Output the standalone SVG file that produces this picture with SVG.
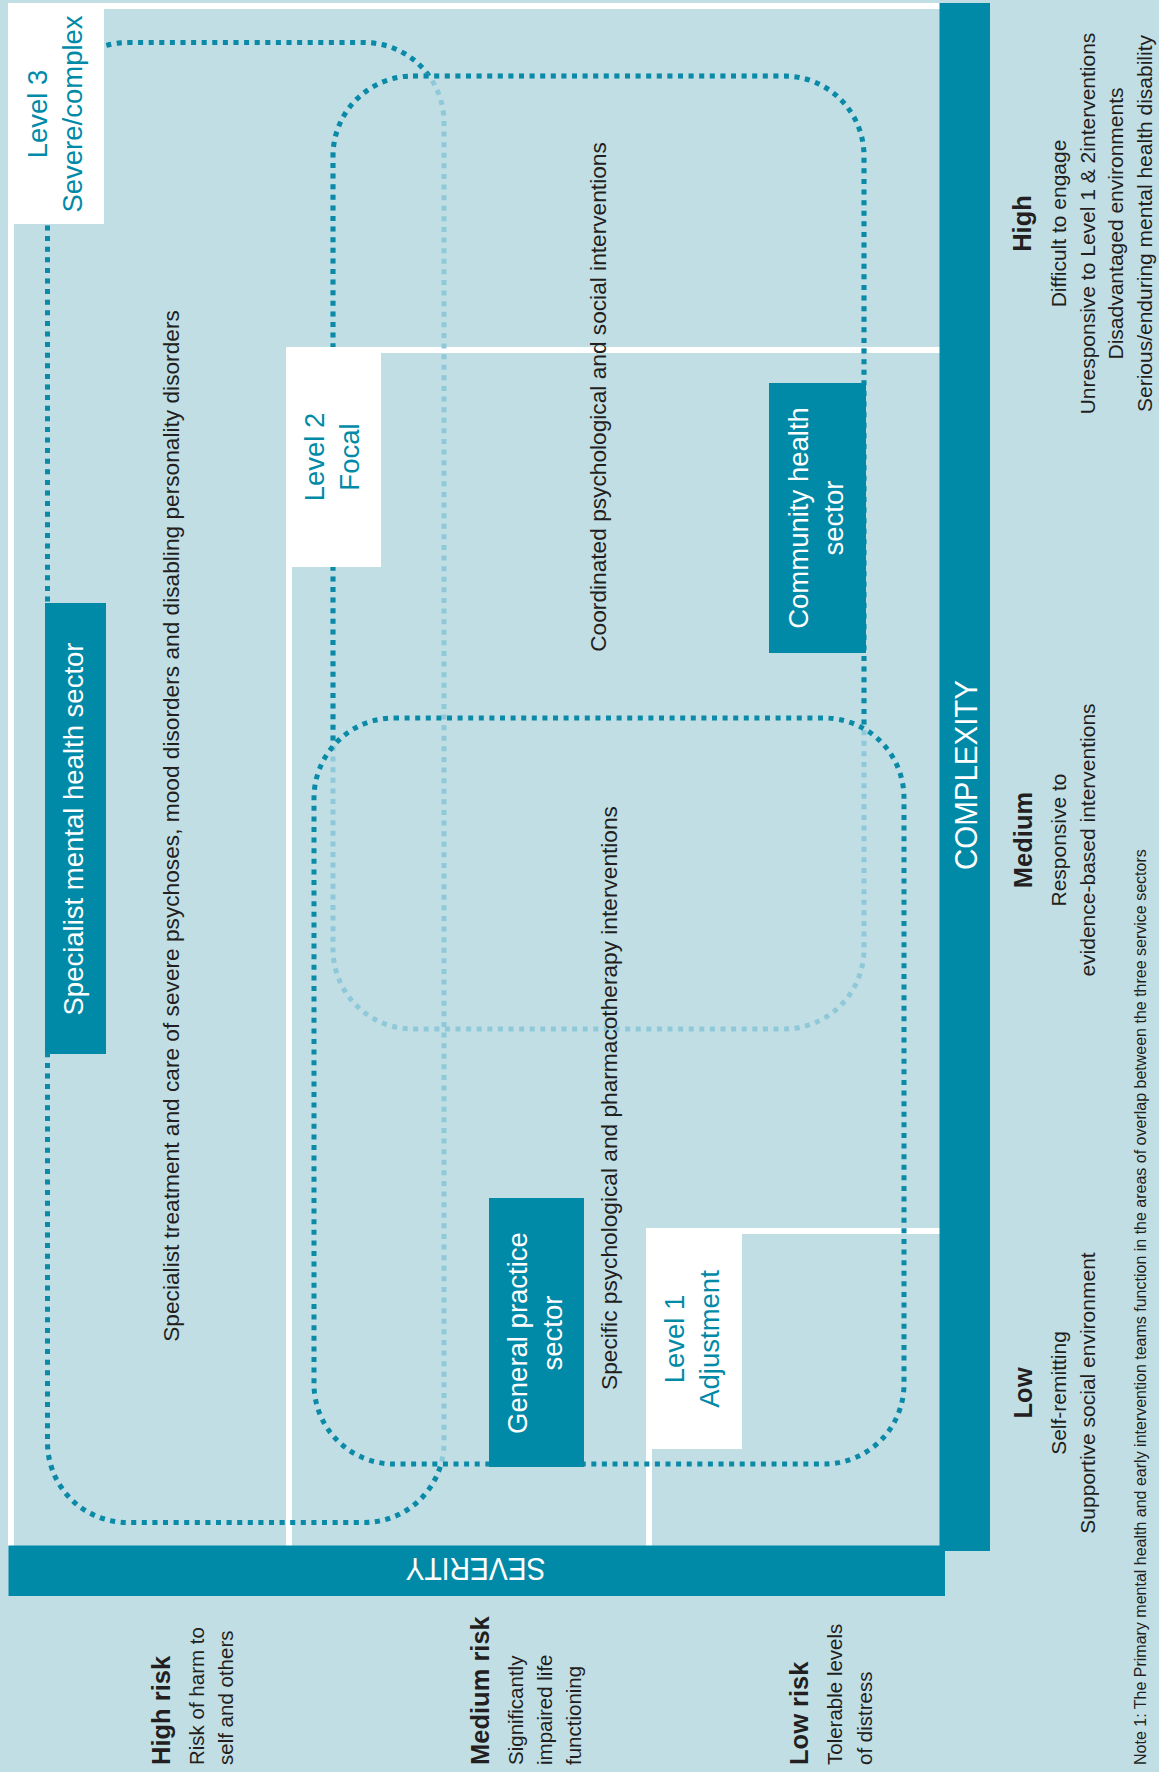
<svg xmlns="http://www.w3.org/2000/svg" width="1159" height="1772" viewBox="0 0 1159 1772">
<style>
text{font-family:"Liberation Sans",Arial,sans-serif;}
.wht{fill:#ffffff;}
.teal{fill:#008aa8;}
.dd{fill:none;stroke:#0a8aa6;stroke-width:5;stroke-dasharray:5 5.6;}
.dl{fill:none;stroke:#8fc9d9;stroke-width:5;stroke-dasharray:5 5.6;}
.lvl{fill:#008aa8;font-size:27.5px;text-anchor:middle;}
.sec{fill:#ffffff;font-size:27.5px;text-anchor:middle;}
.main{fill:#231f20;font-size:22.7px;text-anchor:middle;}
.hb{fill:#231f20;font-size:25.5px;font-weight:bold;text-anchor:middle;}
.hr{fill:#231f20;font-size:21px;text-anchor:middle;}
.bb{fill:#231f20;font-size:25.5px;font-weight:bold;}
.br{fill:#231f20;font-size:20.5px;}
.axis{fill:#ffffff;font-size:31px;text-anchor:middle;}
.note{fill:#231f20;font-size:16px;}
</style>
<defs>
<mask id="m1" maskUnits="userSpaceOnUse" x="0" y="0" width="1159" height="1772">
<rect width="1159" height="1772" fill="#fff"/>
<rect x="333" y="76" width="531" height="953" rx="80" fill="#000"/>
<rect x="314" y="718" width="590" height="746" rx="80" fill="#000"/>
</mask>
<mask id="m2" maskUnits="userSpaceOnUse" x="0" y="0" width="1159" height="1772">
<rect width="1159" height="1772" fill="#fff"/>
<rect x="314" y="718" width="590" height="746" rx="80" fill="#000"/>
</mask>
</defs>
<rect width="1159" height="1772" fill="#c1dee5"/>

<g id="level-borders">
<rect class="wht" x="8" y="3" width="932" height="6"/>
<rect class="wht" x="8" y="3" width="6" height="1543"/>
<rect class="wht" x="286" y="347" width="654" height="6"/>
<rect class="wht" x="286" y="347" width="6" height="1199"/>
<rect class="wht" x="646" y="1228" width="294" height="6"/>
<rect class="wht" x="646" y="1228" width="6" height="318"/>
</g>

<g id="connectors">
<rect class="dl" x="47.5" y="42.5" width="396.5" height="1480" rx="80"/>
<rect class="dd" x="47.5" y="42.5" width="396.5" height="1480" rx="80" mask="url(#m1)"/>
<rect class="dl" x="333" y="76" width="531" height="953" rx="80"/>
<rect class="dd" x="333" y="76" width="531" height="953" rx="80" mask="url(#m2)"/>
<rect class="dd" x="314" y="718" width="590" height="746" rx="80"/>
</g>

<g id="level3">
<rect class="wht" x="8" y="3" width="96" height="221"/>
<text class="lvl" transform="translate(47,114) rotate(-90)">Level 3</text>
<text class="lvl" transform="translate(82,114) rotate(-90)">Severe/complex</text>
</g>
<g id="level2">
<rect class="wht" x="286" y="347" width="95" height="220"/>
<text class="lvl" transform="translate(324,457) rotate(-90)">Level 2</text>
<text class="lvl" transform="translate(359,457) rotate(-90)">Focal</text>
</g>
<g id="level1">
<rect class="wht" x="646" y="1228" width="96" height="221"/>
<text class="lvl" transform="translate(684,1339) rotate(-90)">Level 1</text>
<text class="lvl" transform="translate(719,1339) rotate(-90)">Adjustment</text>
</g>

<g id="specialist-sector">
<rect class="teal" x="45" y="603" width="61" height="451"/>
<text class="sec" transform="translate(83,829) rotate(-90)">Specialist mental health sector</text>
</g>
<g id="community-sector">
<rect class="teal" x="769" y="383" width="97" height="270"/>
<text class="sec" transform="translate(808,518) rotate(-90)">Community health</text>
<text class="sec" transform="translate(843,518) rotate(-90)">sector</text>
</g>
<g id="gp-sector">
<rect class="teal" x="489" y="1198" width="95" height="269"/>
<text class="sec" transform="translate(527,1333) rotate(-90)">General practice</text>
<text class="sec" transform="translate(562,1333) rotate(-90)">sector</text>
</g>

<g id="region-texts">
<text class="main" transform="translate(179,826) rotate(-90)">Specialist treatment and care of severe psychoses, mood disorders and disabling personality disorders</text>
<text class="main" transform="translate(606,397) rotate(-90)">Coordinated psychological and social interventions</text>
<text class="main" transform="translate(617,1098) rotate(-90)">Specific psychological and pharmacotherapy interventions</text>
</g>

<g id="complexity-axis">
<rect class="teal" x="939.5" y="3" width="50.5" height="1548"/>
<text class="axis" transform="translate(977,775) rotate(-90)" textLength="190" lengthAdjust="spacingAndGlyphs">COMPLEXITY</text>
</g>
<g id="severity-axis">
<rect class="teal" x="8.5" y="1545.5" width="936.5" height="50.5"/>
<text class="axis" transform="translate(475.5,1558) rotate(180)" textLength="140" lengthAdjust="spacingAndGlyphs">SEVERITY</text>
</g>

<g id="complexity-high">
<text class="hb" transform="translate(1031,223.5) rotate(-90)">High</text>
<text class="hr" transform="translate(1066,223.5) rotate(-90)">Difficult to engage</text>
<text class="hr" transform="translate(1095,223.5) rotate(-90)">Unresponsive to Level 1 &amp; 2interventions</text>
<text class="hr" transform="translate(1123,223.5) rotate(-90)">Disadvantaged environments</text>
<text class="hr" transform="translate(1152,223.5) rotate(-90)">Serious/enduring mental health disability</text>
</g>
<g id="complexity-medium">
<text class="hb" transform="translate(1032,840) rotate(-90)">Medium</text>
<text class="hr" transform="translate(1066,840) rotate(-90)">Responsive to</text>
<text class="hr" transform="translate(1095,840) rotate(-90)">evidence-based interventions</text>
</g>
<g id="complexity-low">
<text class="hb" transform="translate(1032,1393) rotate(-90)">Low</text>
<text class="hr" transform="translate(1066,1393) rotate(-90)">Self-remitting</text>
<text class="hr" transform="translate(1095,1393) rotate(-90)">Supportive social environment</text>
</g>

<g id="severity-high">
<text class="bb" transform="translate(170,1765) rotate(-90)">High risk</text>
<text class="br" transform="translate(204,1765) rotate(-90)">Risk of harm to</text>
<text class="br" transform="translate(233,1765) rotate(-90)">self and others</text>
</g>
<g id="severity-medium">
<text class="bb" transform="translate(489,1765) rotate(-90)">Medium risk</text>
<text class="br" transform="translate(523,1765) rotate(-90)">Significantly</text>
<text class="br" transform="translate(552,1765) rotate(-90)">impaired life</text>
<text class="br" transform="translate(581,1765) rotate(-90)">functioning</text>
</g>
<g id="severity-low">
<text class="bb" transform="translate(808,1765) rotate(-90)">Low risk</text>
<text class="br" transform="translate(842,1765) rotate(-90)">Tolerable levels</text>
<text class="br" transform="translate(872,1765) rotate(-90)">of distress</text>
</g>

<g id="note">
<text class="note" transform="translate(1146,1765) rotate(-90)">Note 1: The Primary mental health and early intervention teams function in the areas of overlap between the three service sectors</text>
</g>
</svg>
